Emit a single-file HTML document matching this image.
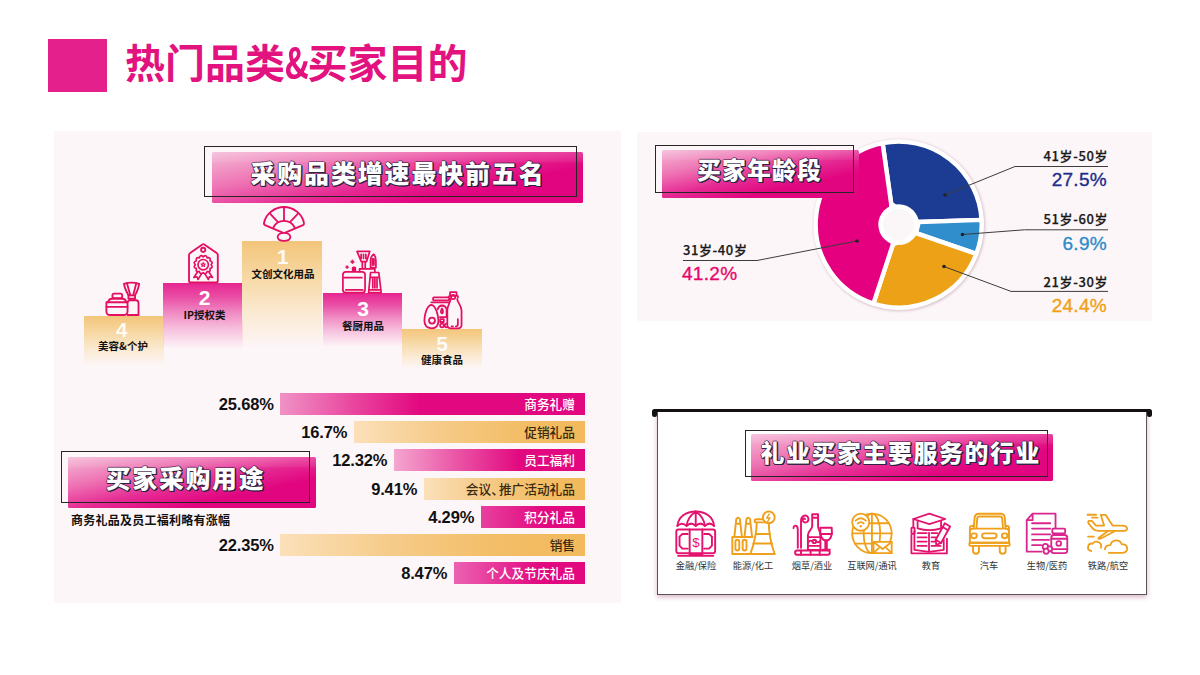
<!DOCTYPE html>
<html lang="zh-CN">
<head>
<meta charset="utf-8">
<title>热门品类&amp;买家目的</title>
<style>
*{margin:0;padding:0;box-sizing:border-box}
html,body{width:1200px;height:675px;background:#fff;overflow:hidden}
body{position:relative;font-family:"Liberation Sans","Noto Sans CJK SC",sans-serif;color:#111}
.abs{position:absolute}
.cjk{font-family:"Noto Sans CJK SC","Liberation Sans",sans-serif}
#sq{left:48px;top:39px;width:59px;height:53px;background:#e4208c}
#title{left:125px;top:32.5px;font-size:40px;line-height:56px;font-weight:700;color:#e2127f;white-space:nowrap;letter-spacing:0}
.panel{background:#fdf6f8}
#pl{left:54px;top:131px;width:567px;height:472px}
#pr{left:637px;top:132px;width:515px;height:189px}
/* banners */
.bn-fill{border-radius:1.5px;background:linear-gradient(180deg,rgba(255,255,255,.16) 0,rgba(255,255,255,.06) 20%,rgba(255,255,255,0) 21%),linear-gradient(168deg,#f4b9d6 0%,#ee74b4 28%,#e62a93 52%,#e1057f 72%,#e1057f 100%)}
.bn-line{border:1.5px solid #262626}
.bn-txt{color:#fff;font-weight:900;font-size:26px;line-height:30px;white-space:nowrap;text-align:center;
 text-shadow:1px 1px 0 #2b2540,1.2px 1.2px 0 #2b2540,0 1px 0 #2b2540,1px 0 0 #2b2540,-0.5px -0.5px 0 rgba(60,35,70,.75),0.5px -0.5px 0 rgba(60,35,70,.75),-0.5px 0.5px 0 rgba(60,35,70,.75),0 -0.7px 0 rgba(60,35,70,.6),-0.7px 0 0 rgba(60,35,70,.6)}
/* podium */
.pod{width:80px}
.pod.o{background:linear-gradient(180deg,#f3c57a 0%,#f7d9a6 35%,#fbebd6 70%,rgba(253,246,248,0) 100%)}
.pod.p{background:linear-gradient(180deg,#e62590 0%,#ea4fa6 22%,#f08ac3 45%,#f7c1de 70%,rgba(253,246,248,0) 100%)}
.pnum{width:80px;text-align:center;color:#fff;font-weight:700;font-size:21px;line-height:20px}
.plab{width:80px;text-align:center;color:#111;font-weight:700;font-size:10.5px;line-height:14px;white-space:nowrap}
/* bars */
.bar{height:22px;right:615px}
.bar.p{background:linear-gradient(90deg,#f29cc9 0%,#e93f9c 30%,#e2087f 55%,#e2087f 100%)}
.bar.o{background:linear-gradient(90deg,#fbe0b9 0%,#f6cc8b 35%,#f3be68 70%,#f2b95c 100%)}
.bl{right:625px;font-size:12.7px;line-height:22px;white-space:nowrap;font-weight:500}
.bl.w{color:#fff}
.bl.k{color:#3a2a10}
.pct{font-weight:700;letter-spacing:-.15px;font-size:16.5px;line-height:22px;white-space:nowrap;text-align:right;color:#111}
#sub{left:71px;top:511px;font-size:12px;line-height:18px;font-weight:700;letter-spacing:.25px;white-space:nowrap;color:#111}
/* pie labels */
.al{font-family:"Noto Sans CJK SC","Liberation Sans",sans-serif;font-size:13px;line-height:16px;font-weight:500;-webkit-text-stroke:.25px #1a1a1a;white-space:nowrap;color:#1a1a1a;letter-spacing:.6px}
.ap{font-size:19px;line-height:22px;white-space:nowrap;letter-spacing:.3px;-webkit-text-stroke:.35px currentColor}
/* industries */
.il{font-size:9.2px;line-height:12px;white-space:nowrap;color:#333;text-align:center;width:70px}
</style>
</head>
<body>
<div id="sq" class="abs"></div>
<div id="title" class="abs cjk">热门品类<span style="display:inline-block;transform:scaleX(.8);margin:0 -3.5px">&amp;</span>买家目的</div>

<div id="pl" class="abs panel"></div>
<div id="pr" class="abs panel"></div>

<!-- banner 1 -->
<div class="abs bn-fill" style="left:212px;top:152px;width:371px;height:51px"></div>
<div class="abs bn-line" style="left:204px;top:146px;width:373px;height:51px"></div>
<div class="abs bn-txt cjk" style="left:215.5px;top:156.8px;width:365px;letter-spacing:1.95px;font-size:24.9px">采购品类增速最快前五名</div>

<!-- podium -->
<div class="abs pod o" style="left:84px;top:316px;height:50px"></div>
<div class="abs pod p" style="left:163px;top:283px;height:66px;width:79.5px"></div>
<div class="abs pod o" style="left:242.4px;top:241px;height:107px"></div>
<div class="abs pod p" style="left:322.5px;top:293.3px;height:54px;width:79.5px"></div>
<div class="abs pod o" style="left:402px;top:329px;height:40px"></div>

<div class="abs pnum" style="left:81.5px;top:320px;opacity:.9">4</div>
<div class="abs plab cjk" style="left:83px;top:339px">美容&amp;个护</div>
<div class="abs pnum" style="left:164.5px;top:288px">2</div>
<div class="abs plab cjk" style="left:164.5px;top:308px">IP授权类</div>
<div class="abs pnum" style="left:242.5px;top:247px;opacity:.9">1</div>
<div class="abs plab cjk" style="left:243px;top:267px">文创文化用品</div>
<div class="abs pnum" style="left:323px;top:299px">3</div>
<div class="abs plab cjk" style="left:323px;top:318.7px">餐厨用品</div>
<div class="abs pnum" style="left:402px;top:334px;opacity:.9">5</div>
<div class="abs plab cjk" style="left:402px;top:353px">健康食品</div>

<!-- bars -->
<div class="abs bar p" style="left:280px;top:392.5px;background:linear-gradient(90deg,#f092c5 0%,#e9469f 24%,#e2087f 46%)"></div>
<div class="abs bar o" style="left:353.5px;top:421px"></div>
<div class="abs bar p" style="left:393.5px;top:449px;background:linear-gradient(90deg,#f4a6d0 0%,#ea52a5 34%,#e2087f 66%)"></div>
<div class="abs bar o" style="left:423.5px;top:477.5px"></div>
<div class="abs bar p" style="left:480.5px;top:506px;background:linear-gradient(90deg,#e7409f 0%,#e2087f 62%)"></div>
<div class="abs bar o" style="left:280px;top:534px"></div>
<div class="abs bar p" style="left:453.5px;top:562px;background:linear-gradient(90deg,#eb62b2 0%,#e2087f 66%)"></div>

<div class="abs bl w cjk" style="top:392.5px">商务礼赠</div>
<div class="abs bl k cjk" style="top:421px">促销礼品</div>
<div class="abs bl w cjk" style="top:449px">员工福利</div>
<div class="abs bl k cjk" style="top:477.5px">会议<span style="margin-right:-5px">、</span>推广活动礼品</div>
<div class="abs bl w cjk" style="top:506px">积分礼品</div>
<div class="abs bl k cjk" style="top:534px">销售</div>
<div class="abs bl w cjk" style="top:562px">个人及节庆礼品</div>

<div class="abs pct" style="right:926.3px;top:392.7px">25.68%</div>
<div class="abs pct" style="right:852.8px;top:421.2px">16.7%</div>
<div class="abs pct" style="right:812.8px;top:449.2px">12.32%</div>
<div class="abs pct" style="right:782.8px;top:477.7px">9.41%</div>
<div class="abs pct" style="right:725.8px;top:506.2px">4.29%</div>
<div class="abs pct" style="right:926.3px;top:534.2px">22.35%</div>
<div class="abs pct" style="right:752.8px;top:562.2px">8.47%</div>

<!-- banner 2 -->
<div class="abs bn-fill" style="left:68px;top:457px;width:248px;height:51px"></div>
<div class="abs bn-line" style="left:61px;top:451px;width:249px;height:52px"></div>
<div class="abs bn-txt cjk" style="left:61px;top:462.4px;width:249px;letter-spacing:1.8px;font-size:24.8px">买家采购用途</div>
<div id="sub" class="abs cjk">商务礼品及员工福利略有涨幅</div>

<!-- pie -->
<svg class="abs" style="left:0;top:0" width="1200" height="675" viewBox="0 0 1200 675">

 <circle cx="899.4" cy="225.3" r="85.5" fill="#c9b0ba" opacity=".85" style="filter:blur(1.6px)"/>
 <circle cx="898.9" cy="224.4" r="84.6" fill="#fff"/>
 <g stroke="#fff" stroke-width="4.4" stroke-linejoin="round">
  <path d="M891.2 203.9 L882.6 143.1 A83 83 0 0 1 981.6 219.9 L918.7 222.0 Z" fill="#1b3c92"/>
  <path d="M918.7 222.0 L981.6 219.9 A83 83 0 0 1 976.3 253.9 L916.0 233.2 Z" fill="#2f8ecb"/>
  <path d="M916.0 233.2 L976.3 253.9 A83 83 0 0 1 873.4 303.6 L892.8 244.7 Z" fill="#eda116"/>
  <path d="M892.8 244.7 L873.4 303.6 A83 83 0 0 1 882.6 143.1 L891.2 203.9 Z" fill="#e4007f"/>
 </g>
 <circle cx="898.7" cy="224.6" r="20.4" fill="#fff"/>
 <circle cx="898.7" cy="224.6" r="15.5" fill="#fbf6f7"/>
 <g stroke="#3c3c3c" stroke-width="1" fill="none">
  <path d="M945 195 L1015 166.5 H1108"/>
  <path d="M962.5 234.5 L1024.5 229.8 H1108"/>
  <path d="M944 266.5 L1011 291.4 H1108"/>
  <path d="M857 241 L757 260.5 H683"/>
 </g>
 <g fill="#222">
  <circle cx="945" cy="195" r="1.8"/><circle cx="962.5" cy="234.5" r="1.8"/><circle cx="944" cy="266.5" r="1.8"/><circle cx="857" cy="241" r="1.8"/>
 </g>
</svg>

<!-- banner 3 (age) drawn above pie -->
<div class="abs bn-fill" style="left:662px;top:150px;width:197px;height:48px"></div>
<div class="abs bn-line" style="left:655px;top:145px;width:199px;height:48px"></div>
<div class="abs bn-txt cjk" style="left:660px;top:154px;width:199px;letter-spacing:1.2px;font-size:23.8px">买家年龄段</div>

<!-- pie labels -->
<div class="abs al" style="right:92px;top:148px">41岁-50岁</div>
<div class="abs ap" style="right:93px;top:168.8px;color:#1c2d8c">27.5%</div>
<div class="abs al" style="right:92px;top:211px">51岁-60岁</div>
<div class="abs ap" style="right:93px;top:232.8px;color:#2e8bc9">6.9%</div>
<div class="abs al" style="right:92px;top:273.5px">21岁-30岁</div>
<div class="abs ap" style="right:93px;top:294.8px;color:#efa015">24.4%</div>
<div class="abs al" style="left:683px;top:242px">31岁-40岁</div>
<div class="abs ap" style="left:682px;top:262.8px;color:#e5086c">41.2%</div>

<!-- industry board -->
<div class="abs" style="left:656.5px;top:411px;width:490.5px;height:184px;background:#fff;border:1px solid #5a5456;box-shadow:0 2px 5px rgba(205,160,182,.8)"></div>
<div class="abs" style="left:654px;top:409.3px;width:496px;height:2.9px;background:#151012"></div>
<div class="abs" style="left:652.3px;top:409.3px;width:5px;height:7.5px;border-radius:2.5px 1px 2px 2.5px;background:#151012"></div>
<div class="abs" style="left:1146.7px;top:409.3px;width:5px;height:7.5px;border-radius:1px 2.5px 2.5px 2px;background:#151012"></div>

<div class="abs bn-fill" style="left:751px;top:434px;width:302px;height:47px"></div>
<div class="abs bn-line" style="left:745px;top:430px;width:303px;height:47px"></div>
<div class="abs bn-txt cjk" style="left:751.8px;top:437.2px;width:298px;letter-spacing:1.7px;font-size:23.8px">礼业买家主要服务的行业</div>

<!-- icons layer -->
<svg class="abs" style="left:0;top:0" width="1200" height="675" viewBox="0 0 1200 675" fill="none" stroke-linecap="round" stroke-linejoin="round">
 <!-- podium: fan -->
 <g transform="translate(254,200) scale(0.066667)" stroke="#e20f62" stroke-width="27">
  <path d="M150 350 C170 200 320 105 450 105 C580 105 730 200 750 350 Q752 370 735 378 L470 490"/>
  <path d="M150 350 Q148 370 165 378 L430 490"/>
  <path d="M290 412 A180 180 0 0 1 610 412"/>
  <path d="M450 105 V310 M240 205 L350 322 M660 205 L550 322"/>
  <path d="M450 492 C380 492 350 530 355 560 C362 600 420 612 450 612 C480 612 538 600 545 560 C550 530 520 492 450 492 Z"/>
 </g>
 <!-- podium: tag -->
 <g transform="translate(174,238) scale(0.066667)" stroke="#e20f62" stroke-width="28">
  <path d="M225 640 V255 Q225 235 242 225 L420 100 Q440 85 460 100 L640 225 Q657 235 657 255 V640 Q657 665 632 665 H250 Q225 665 225 640 Z"/>
  <circle cx="438" cy="178" r="32"/>
  <path stroke-width="25" d="M438 282 Q480 242 497 298 Q554 284 540 341 Q596 358 556 400 Q596 442 540 459 Q554 516 497 502 Q480 558 438 518 Q396 558 379 502 Q322 516 336 459 Q280 442 320 400 Q280 358 336 341 Q322 284 379 298 Q396 242 438 282Z"/>
  <circle cx="438" cy="400" r="78" stroke-width="25"/>
  <path stroke-width="16" d="M438 366 L447 388 L470 389 L452 405 L458 428 L438 415 L418 428 L424 405 L406 389 L429 388 Z"/>
  <path stroke-width="25" d="M350 515 L298 592 L345 582 L360 622 L408 545 M526 515 L578 592 L531 582 L516 622 L468 545"/>
 </g>
 <!-- podium: cosmetics -->
 <g transform="translate(100,278) scale(0.05924)" stroke="#e20f62" stroke-width="31">
  <path d="M108 410 H465 V560 Q465 625 400 625 H170 Q108 625 108 560 Z"/>
  <path d="M108 487 H465"/>
  <path d="M135 410 Q150 350 200 350 H380 Q430 350 445 410"/>
  <rect x="210" y="265" width="165" height="75" rx="28"/>
  <path d="M465 625 H650 V420 Q650 380 610 375 H505 Q470 380 465 410"/>
  <path d="M480 292 H592 V350 H480 Z M505 350 V375 M570 350 V375"/>
  <path d="M480 292 C440 220 410 160 405 100 Q530 55 660 100 C655 160 630 220 592 292"/>
  <path d="M512 292 L455 90 M560 292 L612 90"/>
 </g>
 <!-- podium: kitchen -->
 <g transform="translate(336,245) scale(0.07855)" stroke="#e20f62" stroke-width="22">
  <rect x="88" y="342" width="282" height="265" rx="38"/>
  <path d="M105 415 H330 M125 572 H340"/>
  <rect x="212" y="285" width="34" height="45" rx="10" fill="#e20f62"/>
  <path fill="#e20f62" stroke-width="8" d="M210 190 L235 215 L210 240 L185 215 Z M142 262 L162 282 L142 302 L122 282 Z"/>
  <path d="M300 340 V305 H495 V345"/>
  <path d="M268 82 H430 L388 212 H322 Z M320 118 V172 M350 118 V172 M380 118 V172 M335 212 V300 M372 212 V300"/>
  <path d="M440 288 V200 Q442 140 482 118 Q510 150 508 210 V288 Z"/>
  <rect x="463" y="172" width="20" height="85" rx="10"/>
  <path d="M440 350 H545 L575 605 H415 Z M432 412 H553 M420 572 H570 M468 432 V545 M495 432 V545 M522 432 V545"/>
 </g>
 <!-- podium: health food -->
 <g transform="translate(416,285) scale(0.07117)" stroke="#e20f62" stroke-width="25">
  <path fill="#fdf6f8" d="M215 280 C150 290 120 420 118 500 C118 570 160 608 220 608 C280 608 318 570 315 500 C312 420 280 290 215 280 Z"/>
  <circle cx="225" cy="500" r="42"/>
  <rect x="240" y="175" width="225" height="40" rx="10"/>
  <path d="M215 245 H480"/>
  <path d="M305 340 Q320 290 365 288 Q415 290 430 340 V450 H335"/>
  <path d="M365 330 Q335 385 365 400 Q395 385 365 330 Z"/>
  <rect x="340" y="480" width="50" height="40"/>
  <circle cx="365" cy="570" r="26"/><circle cx="430" cy="570" r="26"/>
  <path fill="#fdf6f8" d="M485 195 C485 250 440 280 440 360 V560 Q440 610 490 610 H590 Q640 610 640 560 V360 C640 280 580 250 580 195"/>
  <rect x="478" y="100" width="92" height="52" rx="8"/>
  <circle cx="522" cy="168" r="30"/>
  <path d="M455 170 Q470 150 480 150 M575 150 Q595 155 590 175"/>
  <path d="M588 480 V555 Q588 580 560 580 M520 580 H500"/>
 </g>

 <!-- industry 1: finance -->
 <g transform="translate(668,503) scale(0.106667)" stroke="#e4126f" stroke-width="18">
  <path d="M88 215 C95 130 170 80 260 80 C350 80 425 130 432 215"/>
  <path d="M88 215 Q131 172 174 215 Q217 172 260 215 Q303 172 346 215 Q389 172 432 215"/>
  <path d="M260 80 V215 M260 80 C215 110 180 160 174 215 M260 80 C305 110 340 160 346 215"/>
  <rect x="78" y="248" width="364" height="222" rx="20"/>
  <path d="M95 495 H425"/>
  <path d="M203 248 V485 H322 V248"/>
  <path d="M185 290 H135 L108 315 V400 L135 428 H185 M340 290 H385 L412 315 V400 L385 428 H340"/>
  <text x="262" y="408" font-size="125" font-weight="400" text-anchor="middle" fill="#e4126f" stroke="none" font-family="Liberation Sans, sans-serif">$</text>
 </g>
 <!-- industry 2: energy -->
 <g transform="translate(668,503) scale(0.106667)" stroke="#efa01a" stroke-width="18">
  <path d="M793 318 H603 V478 H1000"/>
  <path d="M622 318 L640 150 Q657 128 674 150 L693 318 M636 195 H678"/>
  <path d="M717 318 L735 150 Q752 128 769 150 L788 318 M731 195 H773"/>
  <rect x="632" y="345" width="36" height="100" rx="18"/><rect x="700" y="345" width="36" height="100" rx="18"/>
  <path d="M832 182 C832 300 800 400 772 478 H1000 C972 400 945 300 945 182"/>
  <rect x="812" y="152" width="150" height="30" rx="15"/>
  <path d="M824 290 H955 M800 380 H975"/>
  <circle cx="945" cy="135" r="55" fill="#fff"/>
  <path stroke-width="13" d="M950 103 L925 140 H955 L935 172"/>
 </g>
 <!-- industry 3: tobacco / wine -->
 <g transform="translate(785,503) scale(0.106667)" stroke="#e4126f" stroke-width="18">
  <rect x="95" y="445" width="325" height="40" rx="18"/>
  <path d="M150 445 V485 M240 445 V485 M325 445 V485"/>
  <path d="M120 420 V250 C120 205 82 200 80 235"/>
  <path d="M150 420 V170 C150 115 205 100 218 140 C228 175 190 195 170 172 C158 155 175 138 188 150"/>
  <path d="M255 105 H310 V215 C310 250 332 265 332 300 V440 H215 V300 C215 265 255 250 255 215 Z M255 138 H310 M215 320 H332 M215 402 H332"/>
  <circle cx="275" cy="360" r="16"/>
  <path d="M225 362 Q240 345 255 360 M295 360 Q310 377 325 360"/>
  <path fill="#fff" d="M332 232 H438 C447 300 430 350 385 352 C345 350 323 300 332 232 Z"/>
  <path d="M332 290 H440 M378 352 V440 M392 352 V440 M352 438 H420"/>
 </g>
 <!-- industry 4: internet -->
 <g transform="translate(785,503) scale(0.106667)" stroke="#efa01a" stroke-width="17">
  <circle cx="815" cy="285" r="185"/>
  <ellipse cx="815" cy="285" rx="78" ry="185"/>
  <path d="M815 100 V470 M630 285 H1000 M657 190 H973 M657 380 H973"/>
  <circle cx="710" cy="180" r="80" fill="#fff"/>
  <path d="M662 165 Q710 122 758 165 M682 192 Q710 167 738 192"/>
  <circle cx="710" cy="218" r="11" fill="#efa01a" stroke="none"/>
  <rect x="830" y="365" width="170" height="105" fill="#fff"/>
  <path d="M830 365 L915 432 L1000 365 M830 470 L890 412 M1000 470 L940 412"/>
 </g>
 <!-- industry 5: education -->
 <g transform="translate(900,503) scale(0.106667)" stroke="#e4126f" stroke-width="17">
  <path d="M125 150 L275 100 L425 150 L275 197 Z"/>
  <path d="M165 165 V238 Q275 272 385 238 V165"/>
  <path d="M125 150 V230"/><rect x="107" y="230" width="30" height="58" rx="6"/>
  <path d="M107 300 V472 H440 V335"/>
  <path d="M135 262 V440 L272 458 L410 440 V345 M272 278 V458"/>
  <path d="M165 282 H250 M165 322 H250 M165 362 H250 M165 402 H250 M295 282 H350 M295 322 H340 M295 362 H328 M295 402 H380"/>
  <path fill="#fff" d="M420 190 L470 220 L385 375 L340 392 L335 345 Z"/>
  <path d="M335 345 L385 375 M400 225 L450 255"/>
 </g>
 <!-- industry 6: car -->
 <g transform="translate(900,503) scale(0.106667)" stroke="#efa01a" stroke-width="18">
  <path d="M690 240 L700 135 Q705 100 740 100 H945 Q978 100 982 135 L990 240"/>
  <path d="M717 228 L724 145 Q727 127 745 127 H938 Q955 127 958 145 L965 228"/>
  <path d="M690 215 H668 Q655 215 655 230 V245 M990 215 H1010 Q1022 215 1022 230 V245"/>
  <path d="M655 270 Q655 240 690 240 H990 Q1022 240 1022 270 V372 H655 Z"/>
  <rect x="650" y="372" width="378" height="30" rx="10"/>
  <rect x="668" y="285" width="52" height="45" rx="22"/><rect x="955" y="285" width="52" height="45" rx="22"/>
  <rect x="770" y="285" width="135" height="45" rx="22"/>
  <path d="M685 402 V450 Q685 475 712 475 Q740 475 740 450 V402 M935 402 V450 Q935 475 962 475 Q990 475 990 450 V402"/>
 </g>
 <!-- industry 7: bio / pharma -->
 <g transform="translate(1015,503) scale(0.106667)" stroke="#d8268e" stroke-width="17">
  <path d="M380 245 V100 H165 L110 160 V455 H250 M165 100 V160 H110"/>
  <path d="M160 190 H330 M160 240 H330 M160 295 H330 M160 345 H320 M160 395 H245"/>
  <rect x="350" y="240" width="120" height="45" rx="8" fill="#fff"/>
  <path d="M362 285 V300 M458 285 V300"/>
  <rect x="340" y="300" width="150" height="170" rx="25" fill="#fff"/>
  <path d="M340 335 H490 M340 432 H490"/>
  <circle cx="410" cy="380" r="22"/>
  <circle cx="285" cy="410" r="26" fill="#fff"/><circle cx="325" cy="430" r="24" fill="#fff"/><circle cx="292" cy="452" r="24" fill="#fff"/>
 </g>
 <!-- industry 8: rail / aviation -->
 <g transform="translate(1015,503) scale(0.106667)" stroke="#efa01a" stroke-width="17">
  <path d="M690 168 Q680 185 700 205 L730 240 Q745 262 790 262 H1000 Q1055 262 1052 238 Q1045 212 1000 212 H915 L850 112 H805 L835 212 H760 L720 168 Z"/>
  <path d="M870 265 L785 325 Q775 340 800 335 L935 265"/>
  <path d="M680 110 H760 M722 137 H775 M685 315 H740"/>
  <path d="M715 450 Q680 445 685 410 Q690 375 730 380 Q750 350 790 370 Q815 385 805 420"/>
  <path d="M880 468 H1010 Q1055 465 1052 420 Q1045 385 1000 385 Q985 345 935 352 Q900 360 895 395 Q845 395 843 435"/>
 </g>
</svg>

<div class="abs il cjk" style="left:661px;top:559px">金融/保险</div>
<div class="abs il cjk" style="left:718px;top:559px">能源/化工</div>
<div class="abs il cjk" style="left:777px;top:559px">烟草/酒业</div>
<div class="abs il cjk" style="left:837px;top:559px">互联网/通讯</div>
<div class="abs il cjk" style="left:896px;top:559px">教育</div>
<div class="abs il cjk" style="left:954px;top:559px">汽车</div>
<div class="abs il cjk" style="left:1012px;top:559px">生物/医药</div>
<div class="abs il cjk" style="left:1073px;top:559px">铁路/航空</div>

</body>
</html>
